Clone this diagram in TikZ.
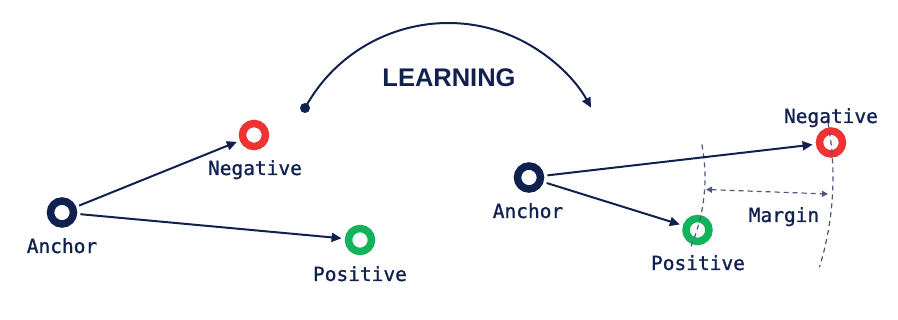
\documentclass[tikz,border=0pt]{standalone}
\usepackage{fontspec}
\setmainfont{DejaVu Sans Mono}
\newfontfamily\lblfont{DejaVu Sans Mono}[FakeBold=1.1]
\newfontfamily\headfont{Liberation Sans}
\usetikzlibrary{arrows.meta}
\definecolor{navy}{HTML}{10214F}
\definecolor{negred}{HTML}{EF3333}
\definecolor{posgreen}{HTML}{13B35B}
\begin{document}
\begin{tikzpicture}[x=1pt,y=-1pt,
  ring/.style={circle,draw=#1,line width=7.5pt,minimum size=23pt,inner sep=0pt,outer sep=7pt},
  lbl/.style={anchor=base,text=navy,font=\lblfont\fontsize{19.5}{20}\selectfont,inner sep=0pt},
  conn/.style={draw=navy,line width=2pt,-{Triangle[length=10pt,width=9pt]}},
  guide/.style={draw=navy!75,line width=1.2pt,dash pattern=on 5pt off 4pt},
  marg/.style={guide,{Triangle[length=6pt,width=6pt]}-{Triangle[length=6pt,width=6pt]}}
]
\useasboundingbox (0,0) rectangle (898,320);
% left (before learning)
\node[ring=navy] (la) at (62,212.5) {};
\node[ring=negred] (ln) at (254,135) {};
\node[ring=posgreen] (lp) at (360,240) {};
\node[lbl] (lal) at (62,253) {Anchor};
\node[lbl] (lnl) at (255,175) {Negative};
\node[lbl] (lpl) at (360,281) {Positive};
\draw[conn] (la) -- (ln);
\draw[conn] (la) -- (lp);
% learning arc
\coordinate (s) at (305,108);
\node[anchor=base,text=navy,font=\headfont\bfseries\fontsize{25.5}{26}\selectfont,inner sep=0pt] (learn) at (449,87) {LEARNING};
\draw[navy,line width=2pt,-{Triangle[length=10pt,width=9pt]}] (s) arc[start angle=-151.4,end angle=-28.7,radius=163];
\fill[navy] (s) circle[radius=5pt];
% right (after learning)
\node[ring=navy] (ra) at (529,177.5) {};
\node[ring=negred] (rn) at (831,142.5) {};
\node[ring=posgreen] (rp) at (697.5,230) {};
\draw[guide] (ra.center) ++(-10.8:176) arc[start angle=-10.8,end angle=24.1,radius=176];
\draw[guide] (ra.center) ++(-10.4:304) arc[start angle=-10.4,end angle=17.2,radius=304];
\node[lbl] (ral) at (528,218) {Anchor};
\node[lbl] (rnl) at (831,123) {Negative};
\node[lbl] (rpl) at (698,270) {Positive};
\node[lbl] (mgl) at (784,222) {Margin};
\draw[conn] (ra) -- (rn);
\draw[conn] (ra) -- (rp);
\coordinate (m1) at (706,189.5);
\coordinate (m2) at (828,194);
\draw[marg] (m1) -- (m2);
\end{tikzpicture}
\end{document}
